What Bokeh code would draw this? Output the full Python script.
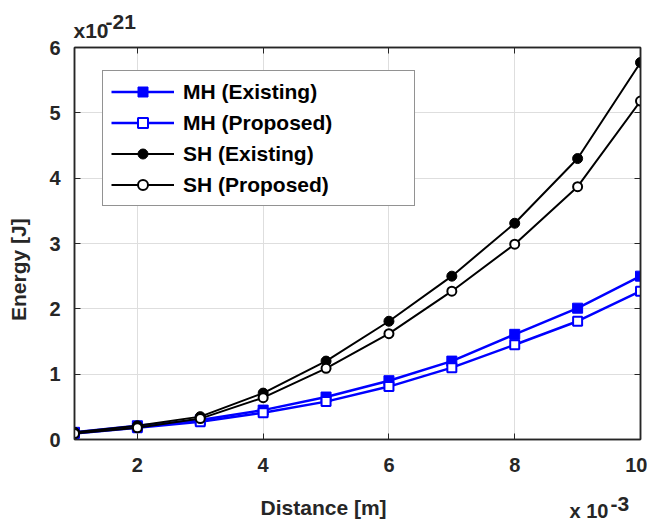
import math
from bokeh.plotting import figure
from bokeh.models import (Range1d, LinearAxis, FixedTicker, Legend, LegendItem, Label,
                          CustomJSTickFormatter)
from bokeh.embed import file_html
from bokeh.resources import INLINE

# Data (x in units of 1e-3 m, y in units of 1e-21 J)
distance = [1, 2, 3, 4, 5, 6, 7, 8, 9, 10]
mh_existing = [0.11, 0.21, 0.30, 0.45, 0.65, 0.90, 1.20, 1.61, 2.01, 2.50]
mh_proposed = [0.09, 0.18, 0.27, 0.41, 0.58, 0.81, 1.10, 1.45, 1.81, 2.27]
sh_existing = [0.11, 0.21, 0.35, 0.71, 1.20, 1.81, 2.50, 3.31, 4.30, 5.77]
sh_proposed = [0.09, 0.18, 0.32, 0.64, 1.09, 1.62, 2.27, 2.99, 3.87, 5.18]
x_ticks = [2, 4, 6, 8, 10]
y_ticks = [0, 1, 2, 3, 4, 5, 6]
labels = ["MH (Existing)", "MH (Proposed)", "SH (Existing)", "SH (Proposed)"]

FONT = "Liberation Sans"
TXT = "#262626"

p = figure(width=647, height=523, output_backend="svg", toolbar_location=None,
           x_range=Range1d(1, 10), y_range=Range1d(0, 6),
           min_border_left=74, min_border_right=7, min_border_top=47, min_border_bottom=84)
p.background_fill_color = "white"
p.outline_line_color = TXT
p.outline_line_width = 1.5

for ax in (p.xaxis[0], p.yaxis[0]):
    ax.major_tick_in = 6
    ax.major_tick_out = 0
    ax.minor_tick_line_color = None
    ax.major_tick_line_color = TXT
    ax.axis_line_color = TXT
    ax.axis_line_width = 1.5
    ax.major_label_text_font = FONT
    ax.major_label_text_font_style = "bold"
    ax.major_label_text_font_size = "20px"
    ax.major_label_text_color = TXT
p.xaxis[0].ticker = FixedTicker(ticks=x_ticks)
p.yaxis[0].ticker = FixedTicker(ticks=y_ticks)
p.xaxis[0].major_label_standoff = 18
p.yaxis[0].major_label_standoff = 14

for loc, tk in (("right", y_ticks), ("above", x_ticks)):
    ax = LinearAxis(ticker=FixedTicker(ticks=tk), major_tick_in=6, major_tick_out=0,
                    minor_tick_line_color=None, major_tick_line_color=TXT,
                    axis_line_color=TXT, axis_line_width=1.5,
                    formatter=CustomJSTickFormatter(code="return ''"),
                    major_label_standoff=0)
    p.add_layout(ax, loc)

p.xgrid.ticker = FixedTicker(ticks=x_ticks)
p.ygrid.ticker = FixedTicker(ticks=y_ticks)
p.xgrid.grid_line_color = "#dedede"
p.ygrid.grid_line_color = "#dedede"

BLUE = "#0000ff"
l1 = p.line(distance, mh_existing, line_color=BLUE, line_width=2.5)
s1 = p.scatter(distance, mh_existing, marker="square", size=10, fill_color=BLUE, line_color=BLUE)
l2 = p.line(distance, mh_proposed, line_color=BLUE, line_width=2.5)
s2 = p.scatter(distance, mh_proposed, marker="square", size=9, fill_color="white", line_color=BLUE, line_width=2)
l3 = p.line(distance, sh_existing, line_color="black", line_width=2)
s3 = p.scatter(distance, sh_existing, marker="circle", size=10, fill_color="black", line_color="black")
l4 = p.line(distance, sh_proposed, line_color="black", line_width=2)
s4 = p.scatter(distance, sh_proposed, marker="circle", size=9, fill_color="white", line_color="black", line_width=2)

legend = Legend(items=[LegendItem(label=labels[0], renderers=[l1, s1]),
                       LegendItem(label=labels[1], renderers=[l2, s2]),
                       LegendItem(label=labels[2], renderers=[l3, s3]),
                       LegendItem(label=labels[3], renderers=[l4, s4])],
                location=(28, 233), glyph_width=63, glyph_height=25, label_height=25,
                spacing=6, padding=8, margin=0, label_standoff=9, label_width=223,
                label_text_font=FONT, label_text_font_style="bold", label_text_font_size="21px",
                label_text_color="black", border_line_color=TXT, border_line_width=1,
                background_fill_color="white", background_fill_alpha=1.0)
p.add_layout(legend, "center")

def lab(place, text, x, y, xo, yo, size="21px", angle=0, align="left"):
    p.add_layout(Label(x=x, y=y, x_offset=xo, y_offset=yo, text=text, angle=angle,
                       text_align=align, text_baseline="alphabetic",
                       text_font=FONT, text_font_style="bold", text_font_size=size,
                       text_color=TXT), place)

# side panels are used so the texts outside the frame are not clipped
lab("above", "x10", 1, 6, -1, 17)
lab("above", "-21", 1, 6, 31, 26)
lab("below", "x 10", 10, 0, -71, -71, size="20px")
lab("below", "Distance [m]", 4.96, 0, 0, -68, align="center")
lab("left", "-3", 10, 0, -30, -64)
lab("left", "Energy [J]", 1, 2.60, -56, 0, angle=math.pi / 2, align="center")

open("out.html", "w").write(file_html(p, INLINE))
